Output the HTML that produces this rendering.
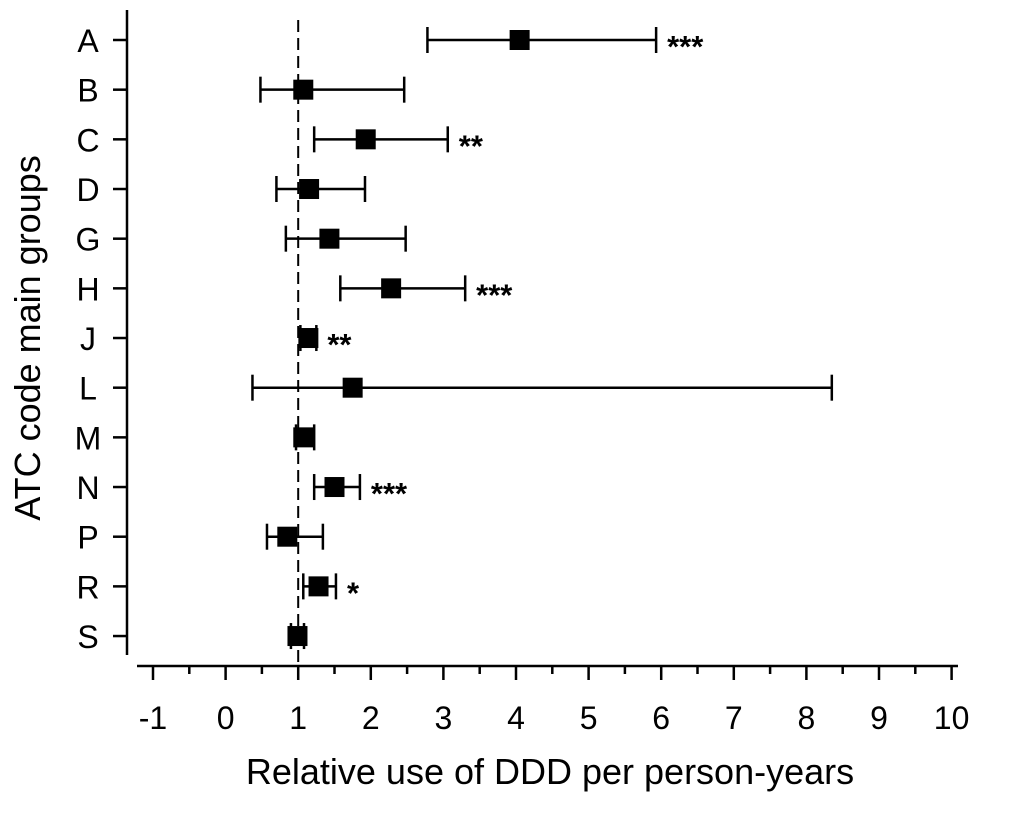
<!DOCTYPE html>
<html><head><meta charset="utf-8"><style>
body{margin:0;background:#fff}
svg text{font-family:"Liberation Sans",Arial,sans-serif;fill:#000}
</style></head><body>
<svg width="1010" height="820">
<g id="plot"></g>
</svg>
<script>
const categories=["A","B","C","D","G","H","J","L","M","N","P","R","S"];
const estimates=[4.05,1.07,1.93,1.15,1.43,2.28,1.14,1.75,1.07,1.5,0.85,1.28,0.99];
const lowers=[2.78,0.48,1.22,0.7,0.83,1.58,1.03,0.37,0.97,1.22,0.57,1.07,0.9];
const uppers=[5.93,2.46,3.06,1.92,2.48,3.3,1.25,8.35,1.22,1.85,1.34,1.52,1.08];
const stars=["***","","**","","","***","**","","","***","","*",""];
const xTicks=[-1,0,1,2,3,4,5,6,7,8,9,10];
const NS="http://www.w3.org/2000/svg";
const g=document.getElementById('plot');
const X=v=>225.6+72.6*v;
const Y=i=>40+i*49.67;
function mk(t,a,p){const e=document.createElementNS(NS,t);for(const k in a)e.setAttribute(k,a[k]);(p||g).appendChild(e);return e;}
let e=mk('line',{x1:127,y1:10,x2:127,y2:655,stroke:'#000','stroke-width':2.5});


e=mk('line',{x1:137,y1:666,x2:958,y2:666,stroke:'#000','stroke-width':2.5});


e=mk('line',{x1:X(1),y1:20,x2:X(1),y2:666,stroke:'#000','stroke-width':2,'stroke-dasharray':'12,6'});


xTicks.forEach((v,i)=>{
 let t=mk('line',{x1:X(v),y1:666,x2:X(v),y2:680,stroke:'#000','stroke-width':2.5});
 
 
 if(i<xTicks.length-1){let m=mk('line',{x1:X(v+0.5),y1:666,x2:X(v+0.5),y2:674,stroke:'#000','stroke-width':2.5});
 
 }
 let l=mk('text',{x:X(v),y:729,'font-size':32,'text-anchor':'middle'});l.textContent=v;
 
 
});
categories.forEach((c,i)=>{
 const y=Y(i);
 let t=mk('line',{x1:113,y1:y,x2:127,y2:y,stroke:'#000','stroke-width':2.5});
 
 
 let l=mk('text',{x:88,y:y+12,'font-size':32,'text-anchor':'middle'});l.textContent=c;
 
 
 const gg=mk('g',{});
 
 
 mk('line',{x1:X(lowers[i]),y1:y,x2:X(uppers[i]),y2:y,stroke:'#000','stroke-width':2.5},gg);
 mk('line',{x1:X(lowers[i]),y1:y-13,x2:X(lowers[i]),y2:y+13,stroke:'#000','stroke-width':2.5},gg);
 mk('line',{x1:X(uppers[i]),y1:y-13,x2:X(uppers[i]),y2:y+13,stroke:'#000','stroke-width':2.5},gg);
 mk('rect',{x:X(estimates[i])-10,y:y-10,width:20,height:20,fill:'#000'},gg);
 if(stars[i]){let s=mk('text',{x:X(uppers[i])+11,y:y+17,'font-size':31,'font-weight':'bold'},gg);s.textContent=stars[i];
 
 }
});
let xt=mk('text',{x:550,y:784,'font-size':36,'text-anchor':'middle'});xt.textContent='Relative use of DDD per person-years';


let yt=mk('text',{x:0,y:0,'font-size':36,'text-anchor':'middle',transform:'translate(40,338) rotate(-90)'});yt.textContent='ATC code main groups';


</script>
</body></html>
